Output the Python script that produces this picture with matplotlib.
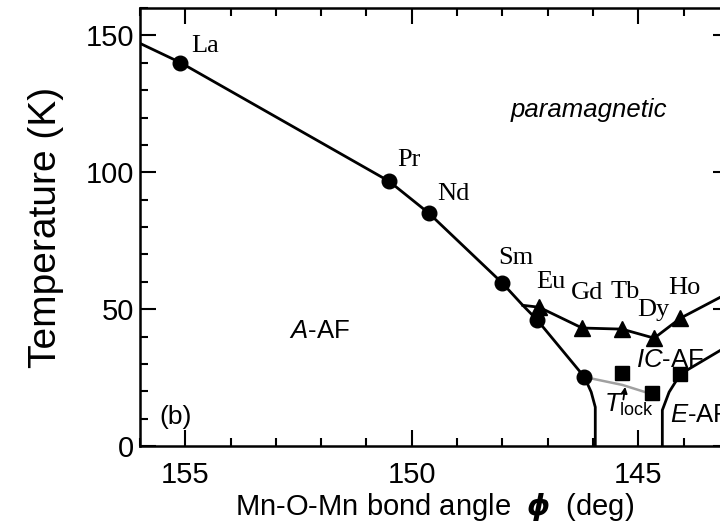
import matplotlib
matplotlib.use("Agg")
from matplotlib import pyplot as plt

plt.rcParams['font.family'] = ['Liberation Sans', 'DejaVu Sans']
plt.rcParams['mathtext.fontset'] = 'custom'
plt.rcParams['mathtext.rm'] = 'Liberation Sans'
plt.rcParams['mathtext.it'] = 'Liberation Sans:italic'
plt.rcParams['mathtext.bf'] = 'Liberation Sans:bold'

# transition points, RMnO3 series
circ_phi = [155.11, 150.50, 149.62, 148.00, 147.23, 146.19]
circ_T = [140.1, 96.7, 85.0, 59.5, 46.0, 25.2]
tri_phi = [147.19, 146.24, 145.36, 144.65, 144.07]
tri_T = [50.7, 43.1, 42.7, 39.4, 46.7]
sq_phi = [145.36, 144.69, 144.07]
sq_T = [26.6, 19.3, 26.3]

# phase boundaries
main_phi = [156.0, 155.11, 150.50, 149.62, 148.00, 147.55, 147.23, 146.19, 146.04, 145.95, 145.95]
main_T = [147.1, 140.1, 96.7, 85.0, 59.5, 51.4, 46.0, 25.2, 19.7, 14.2, 0.0]
ic_phi = [147.55, 147.19, 146.24, 145.36, 144.65, 144.07, 143.0]
ic_T = [51.4, 50.7, 43.1, 42.7, 39.4, 46.7, 56.0]
e_phi = [144.47, 144.47, 144.32, 144.07, 143.0]
e_T = [0.0, 13.1, 19.7, 26.3, 36.8]
lock_phi = [146.19, 145.35, 144.85, 144.69]
lock_T = [25.2, 22.3, 19.7, 19.3]

elements = ['La', 'Pr', 'Nd', 'Sm', 'Eu', 'Gd', 'Tb', 'Dy', 'Ho']
elem_phi = [154.56, 150.06, 149.09, 147.70, 146.94, 146.14, 145.29, 144.67, 143.98]
elem_T = [146.0, 104.4, 92.0, 68.6, 59.9, 55.8, 56.2, 49.6, 57.7]

fig = plt.figure(figsize=(7.2, 5.22), dpi=100)
ax = fig.add_axes([0.1944, 0.1456, 0.818, 0.839])

ax.plot(lock_phi, lock_T, color='#a0a0a0', lw=1.8, zorder=2)
ax.plot(main_phi, main_T, color='black', lw=2.0, zorder=3)
ax.plot(ic_phi, ic_T, color='black', lw=2.0, zorder=3)
ax.plot(e_phi, e_T, color='black', lw=2.0, zorder=3)

ax.plot(circ_phi, circ_T, 'o', color='black', ms=10.5, zorder=4)
ax.plot(tri_phi, tri_T, '^', color='black', ms=12, zorder=4)
ax.plot(sq_phi, sq_T, 's', color='black', ms=10.5, zorder=4)

for name, p, t in zip(elements, elem_phi, elem_T):
    ax.text(p, t, name, family='Liberation Serif', fontsize=19, ha='center', va='center')

ax.text(146.1, 122.6, 'paramagnetic', style='italic', fontsize=18.5, ha='center', va='center')
ax.text(152.04, 42.0, r'$A$-AF', fontsize=18.5, ha='center', va='center')
ax.text(145.05, 31.4, r'$IC$-AF', fontsize=18.5, ha='left', va='center')
ax.text(144.29, 11.3, r'$E$-AF', fontsize=18.5, ha='left', va='center')
ax.text(145.75, 15.0, r'$T_{\mathrm{lock}}$', fontsize=18.5, ha='left', va='center')
ax.text(155.22, 10.6, '(b)', fontsize=19, ha='center', va='center')
ax.annotate('', xy=(145.29, 21.6), xytext=(145.33, 17.0),
            arrowprops=dict(arrowstyle='-|>', color='black', lw=1.3,
                            mutation_scale=9, shrinkA=0, shrinkB=0))

ax.set_xlim(156, 143)
ax.set_ylim(0, 160)
ax.set_xticks([155, 150, 145])
ax.set_xticks(range(144, 157), minor=True)
ax.set_yticks([0, 50, 100, 150])
ax.set_yticks(range(0, 161, 10), minor=True)
ax.tick_params(which='both', direction='in', top=True, right=True, width=1.5, labelsize=21)
ax.tick_params(which='major', length=11.5)
ax.tick_params(which='minor', length=6)
ax.tick_params(axis='x', pad=11)
ax.tick_params(axis='y', pad=4)
for s in ax.spines.values():
    s.set_linewidth(1.8)

ax.set_xlabel(r'Mn-O-Mn bond angle  $\boldsymbol{\phi}$  (deg)', fontsize=21, labelpad=1)
ax.set_ylabel('Temperature (K)', fontsize=28, labelpad=16)

fig.savefig('out.png', dpi=100)
